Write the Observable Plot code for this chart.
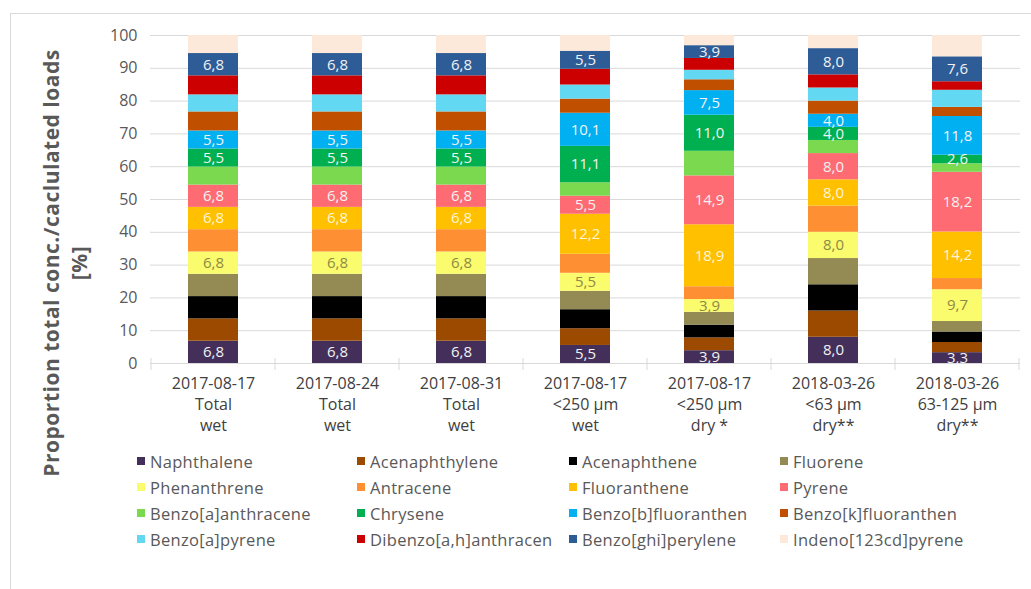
<!DOCTYPE html>
<html>
<head>
<meta charset="utf-8">
<script src="https://cdn.jsdelivr.net/npm/d3@7"></script>
<script src="https://cdn.jsdelivr.net/npm/@observablehq/plot@0.6"></script>
<style>
  html, body { margin: 0; padding: 0; background: #fff; }
  #wrap { position: relative; width: 1031px; height: 589px; overflow: hidden; background: #fff; font-family: "Open Sans", "DejaVu Sans", sans-serif; }
  #frame { position: absolute; left: 10px; top: 13px; right: 0; bottom: 0; border-top: 1px solid #d9d9d9; border-left: 1px solid #d9d9d9; }
  #chart { position: absolute; left: 0; top: 0; }
  #legend { position: absolute; left: 137px; top: 448px; display: grid; grid-template-columns: 220px 212px 211px 240px; grid-auto-rows: 26px; font-size: 16.5px; letter-spacing: 0.3px; color: #595959; }
  .item { display: flex; align-items: center; white-space: nowrap; }
  .sw { width: 8px; height: 8px; margin-right: 5px; flex: none; }
</style>
</head>
<body>
<div id="wrap">
  <div id="frame"></div>
  <div id="chart"></div>
  <div id="legend"></div>
</div>
<script>
// ---- categories (x axis) ----
const dates      = ["2017-08-17", "2017-08-24", "2017-08-31", "2017-08-17", "2017-08-17", "2018-03-26", "2018-03-26"];
const fractions  = ["Total", "Total", "Total", "<250 µm", "<250 µm", "<63 µm", "63-125 µm"];
const conditions = ["wet", "wet", "wet", "wet", "dry *", "dry**", "dry**"];
const categories = dates.map((d, i) => `${d}\n${fractions[i]}\n${conditions[i]}`);

// ---- y ticks ----
const yTicks = [0, 10, 20, 30, 40, 50, 60, 70, 80, 90, 100];

// ---- series values [%] (one value per category) ----
const naphthalene        = [6.8, 6.8, 6.8, 5.5, 3.9, 8.0, 3.3];
const acenaphthylene     = [6.8, 6.8, 6.8, 5.1, 3.9, 8.0, 3.1];
const acenaphthene       = [6.8, 6.8, 6.8, 5.8, 3.9, 8.0, 3.2];
const fluorene           = [6.8, 6.8, 6.8, 5.6, 3.9, 8.0, 3.2];
const phenanthrene       = [6.8, 6.8, 6.8, 5.5, 3.9, 8.0, 9.7];
const antracene          = [6.8, 6.8, 6.8, 5.8, 3.9, 8.0, 3.4];
const fluoranthene       = [6.8, 6.8, 6.8, 12.2, 18.9, 8.0, 14.2];
const pyrene             = [6.8, 6.8, 6.8, 5.5, 14.9, 8.0, 18.2];
const benzoAAnthracene   = [5.5, 5.5, 5.5, 4.1, 7.5, 4.0, 2.6];
const chrysene           = [5.5, 5.5, 5.5, 11.1, 11.0, 4.0, 2.6];
const benzoBFluoranthen  = [5.5, 5.5, 5.5, 10.1, 7.5, 4.0, 11.8];
const benzoKFluoranthen  = [5.8, 5.8, 5.8, 4.3, 3.3, 4.0, 2.8];
const benzoAPyrene       = [5.2, 5.2, 5.2, 4.3, 2.9, 4.0, 5.2];
const dibenzoAHAnthracen = [5.8, 5.8, 5.8, 4.8, 3.6, 4.0, 2.6];
const benzoGhiPerylene   = [6.8, 6.8, 6.8, 5.5, 3.9, 8.0, 7.6];
const indenoPyrene       = [5.5, 5.5, 5.5, 4.8, 3.1, 4.0, 6.5];

const seriesNames = ["Naphthalene", "Acenaphthylene", "Acenaphthene", "Fluorene",
  "Phenanthrene", "Antracene", "Fluoranthene", "Pyrene",
  "Benzo[a]anthracene", "Chrysene", "Benzo[b]fluoranthen", "Benzo[k]fluoranthen",
  "Benzo[a]pyrene", "Dibenzo[a,h]anthracen", "Benzo[ghi]perylene", "Indeno[123cd]pyrene"];
const seriesValues = [naphthalene, acenaphthylene, acenaphthene, fluorene,
  phenanthrene, antracene, fluoranthene, pyrene,
  benzoAAnthracene, chrysene, benzoBFluoranthen, benzoKFluoranthen,
  benzoAPyrene, dibenzoAHAnthracen, benzoGhiPerylene, indenoPyrene];
const seriesColors = ["#432f59", "#9c4a00", "#000000", "#948a54",
  "#fbfb6e", "#ff8f33", "#ffc000", "#ff6b73",
  "#7ad94e", "#00b050", "#00b0f0", "#c04f00",
  "#63d8f2", "#cc0000", "#2e5c96", "#fde9d9"];

// series whose segments carry a value label
const whiteLabeled = ["Naphthalene", "Pyrene", "Chrysene", "Benzo[b]fluoranthen", "Benzo[ghi]perylene"];
const oliveLabeled = ["Phenanthrene"];
const creamLabeled = ["Fluoranthene"];

// long table built from the arrays
const data = [];
seriesNames.forEach((s, si) => {
  categories.forEach((c, ci) => data.push({series: s, cat: c, value: seriesValues[si][ci]}));
});

const fmt = v => v.toFixed(1).replace(".", ",");
const labelFor = set => d => set.includes(d.series) ? fmt(d.value) : "";

const labelMark = (set, color) => Plot.text(data, Plot.stackY({
  x: "cat", y: "value", z: "series", order: null,
  text: labelFor(set), fill: color, fontSize: 15
}));

const plot = Plot.plot({
  width: 1031,
  height: 445,
  marginLeft: 150,
  marginRight: 11,
  marginTop: 35,
  marginBottom: 82,
  style: {fontFamily: "'Open Sans', sans-serif", fontSize: "16px", background: "transparent", overflow: "visible"},
  x: {type: "band", domain: categories, paddingInner: 0.6, paddingOuter: 0.3, axis: null, label: null},
  y: {domain: [0, 100], axis: null, label: null},
  color: {type: "ordinal", domain: seriesNames, range: seriesColors},
  marks: [
    Plot.gridY(yTicks, {stroke: "#d9d9d9", strokeOpacity: 1}),
    Plot.barY(data, {x: "cat", y: "value", fill: "series", z: "series", order: null}),
    Plot.ruleY([0], {stroke: "#d9d9d9"}),
    Plot.axisY(yTicks, {tickSize: 0, tickPadding: 13, fontSize: 16, fill: "#595959", label: null}),
    Plot.axisX({tickSize: 0, tickPadding: 11, fontSize: 16, fill: "#404040", lineHeight: 1.3, label: null, tickFormat: d => d}),
    labelMark(whiteLabeled, "#f2f2f2"),
    labelMark(oliveLabeled, "#8c8a45"),
    labelMark(creamLabeled, "#fff5d6")
  ]
});

document.getElementById("chart").appendChild(plot);

// category boundary ticks on the x axis, derived from the scales
const svg = d3.select(plot);
const xs = plot.scale("x");
const ys = plot.scale("y");
const step = xs.step ?? ((xs.range[1] - xs.range[0]) / xs.domain.length);
const bw = xs.bandwidth;
const y0 = ys.apply(0);
const bounds = categories.map(c => xs.apply(c) - (step - bw) / 2);
bounds.push(xs.apply(categories[categories.length - 1]) + bw + (step - bw) / 2);
svg.append("g").selectAll("line").data(bounds).join("line")
  .attr("x1", d => d).attr("x2", d => d)
  .attr("y1", y0 - 5).attr("y2", y0 + 7)
  .attr("stroke", "#d9d9d9");

// y axis title (two lines)
const titleLines = ["Proportion total conc./caclulated loads", "[%]"];
const yMid = (ys.apply(0) + ys.apply(100)) / 2 + 64;
svg.append("g").selectAll("text").data(titleLines).join("text")
  .attr("transform", (d, i) => `translate(${53 + i * 28},${yMid}) rotate(-90)`)
  .attr("text-anchor", "middle")
  .attr("dominant-baseline", "middle")
  .attr("fill", "#595959")
  .style("font-family", "'Open Sans', sans-serif")
  .style("font-weight", "700")
  .style("font-size", "21px")
  .style("letter-spacing", "0.5px")
  .text(d => d);

// legend
const legend = d3.select("#legend");
seriesNames.forEach((s, i) => {
  const item = legend.append("div").attr("class", "item");
  item.append("span").attr("class", "sw").style("background", seriesColors[i]);
  item.append("span").text(s);
});
</script>
</body>
</html>
